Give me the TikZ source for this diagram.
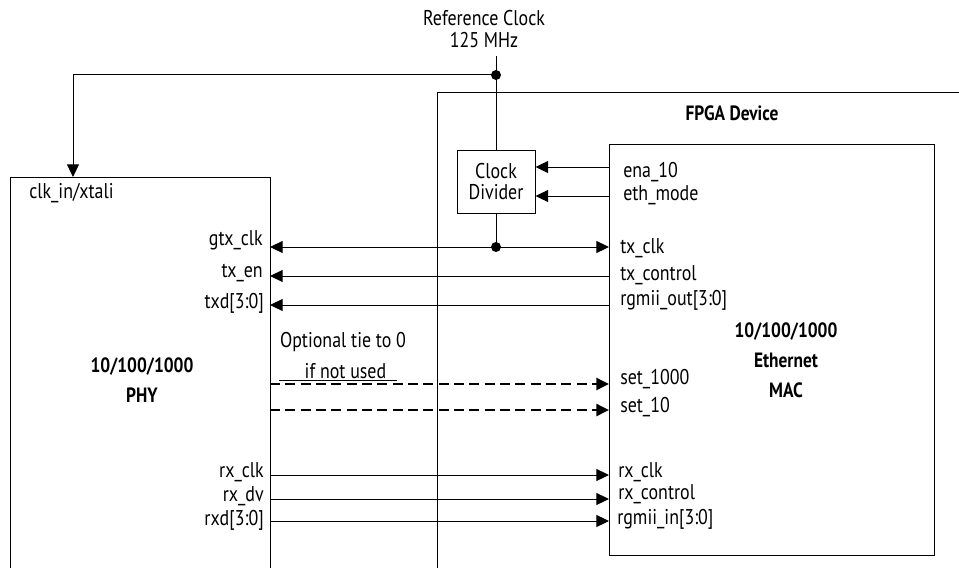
\documentclass[tikz,border=0pt]{standalone}
\usepackage{fontspec}
\setmainfont{PT Sans}[FakeStretch=0.84]
\usetikzlibrary{arrows.meta,positioning}

\begin{document}
\begin{tikzpicture}[x=0.75pt, y=-0.75pt,
    font=\fontsize{16pt}{17pt}\selectfont,
    >={Triangle[length=9.5pt,width=9pt]},
    box/.style={draw, line width=0.75pt, inner sep=0pt, anchor=north west},
    lbl/.style={inner sep=0pt},
    pinL/.style={inner sep=0pt, anchor=east},
    pinR/.style={inner sep=0pt, anchor=west},
    sig/.style={line width=0.75pt},
    opt/.style={line width=1.8pt, dash pattern=on 7.5pt off 4pt},
    junc/.style={circle, fill, inner sep=0pt, minimum size=7.5pt}]

    \clip (0,0) rectangle (959,567);

    % boxes
    \node[box, minimum width=195pt, minimum height=330pt] (phy) at (10,177) {};
    \node[box, minimum width=422pt, minimum height=375pt] (fpga) at (437,92) {};
    \node[box, minimum width=243.75pt, minimum height=308.25pt] (mac) at (609,144) {};
    \node[box, minimum width=58.5pt, minimum height=47.25pt, align=center,
          anchor=center, font=\fontsize{16pt}{15.5pt}\selectfont] (clkdiv) at (496,181.5) {Clock\\Divider};

    % titles
    \node[lbl, align=center, font=\fontsize{16pt}{16.5pt}\selectfont] (refclk) at (484,29)
        {Reference Clock\\125 MHz};
    \node[lbl, font=\fontsize{15.5pt}{16pt}\bfseries] (fpgaT) at (732,113) {FPGA Device};
    \node[lbl, align=center, font=\fontsize{15.5pt}{22.5pt}\bfseries] (macT) at (786,360)
        {10/100/1000\\Ethernet\\MAC};
    \node[lbl, align=center, font=\fontsize{15.5pt}{22.5pt}\bfseries] (phyT) at (142,380)
        {10/100/1000\\PHY};
    \node[lbl, anchor=west] (clkinP) at (29,193) {clk\_in/xtali};
    \node[lbl] (optT) at (343,342) {Optional tie to 0};
    \node[lbl] (optT2) at (338,372) {\underline{\hspace{1.2em}if not used\hspace{0.5em}}};

    % PHY pins
    \node[pinL] (gtxP) at (263,240) {gtx\_clk};
    \node[pinL] (txenP) at (263,273) {tx\_en};
    \node[pinL] (txdP) at (264,303) {txd[3:0]};
    \node[pinL] (rxclkP) at (264,472) {rx\_clk};
    \node[pinL] (rxdvP) at (264,496) {rx\_dv};
    \node[pinL] (rxdP) at (264,520) {rxd[3:0]};

    % MAC pins
    \node[pinR] (enaM) at (623,172) {ena\_10};
    \node[pinR] (ethM) at (623,195) {eth\_mode};
    \node[pinR] (txclkM) at (620,248) {tx\_clk};
    \node[pinR] (txctlM) at (620,275) {tx\_control};
    \node[pinR] (rgoutM) at (620,300) {rgmii\_out[3:0]};
    \node[pinR] (s1000M) at (620,379) {set\_1000};
    \node[pinR] (s10M) at (620,407) {set\_10};
    \node[pinR] (rxclkM) at (618,472) {rx\_clk};
    \node[pinR] (rxctlM) at (618,494) {rx\_control};
    \node[pinR] (rginM) at (617,519) {rgmii\_in[3:0]};

    % pin points on the box edges
    \coordinate (refTop) at (496,56);
    \coordinate (clkIn) at (73,177);
    \coordinate (pGtx) at (270,247);   \coordinate (mGtx) at (609,247);
    \coordinate (pTxen) at (270,276);  \coordinate (mTxen) at (609,276);
    \coordinate (pTxd) at (270,305);   \coordinate (mTxd) at (609,305);
    \coordinate (pS1000) at (270,384); \coordinate (mS1000) at (609,384);
    \coordinate (pS10) at (270,410);   \coordinate (mS10) at (609,410);
    \coordinate (pRxclk) at (270,475); \coordinate (mRxclk) at (609,475);
    \coordinate (pRxdv) at (270,499);  \coordinate (mRxdv) at (609,499);
    \coordinate (pRxd) at (270,521);   \coordinate (mRxd) at (609,521);
    \coordinate (mEna) at (609,167);
    \coordinate (mEth) at (609,196);

    % clock
    \node[junc] (clkdot) at (496,75) {};
    \node[junc] (gtxdot) at (496,247) {};
    \draw[sig] (refTop) -- (clkdiv.north);
    \draw[sig, ->] (clkdot.center) -| (clkIn);
    \draw[sig] (clkdiv.south) -- (gtxdot.center);
    \draw[sig, ->] (mEna) -- (mEna -| clkdiv.east);
    \draw[sig, ->] (mEth) -- (mEth -| clkdiv.east);

    % transmit side
    \draw[sig, <->] (pGtx) -- (mGtx);
    \draw[sig, ->] (mTxen) -- (pTxen);
    \draw[sig, ->] (mTxd) -- (pTxd);

    % optional tie
    \draw[opt, ->] (pS1000) -- (mS1000);
    \draw[opt, ->] (pS10) -- (mS10);

    % receive side
    \draw[sig, ->] (pRxclk) -- (mRxclk);
    \draw[sig, ->] (pRxdv) -- (mRxdv);
    \draw[sig, ->] (pRxd) -- (mRxd);
\end{tikzpicture}
\end{document}
